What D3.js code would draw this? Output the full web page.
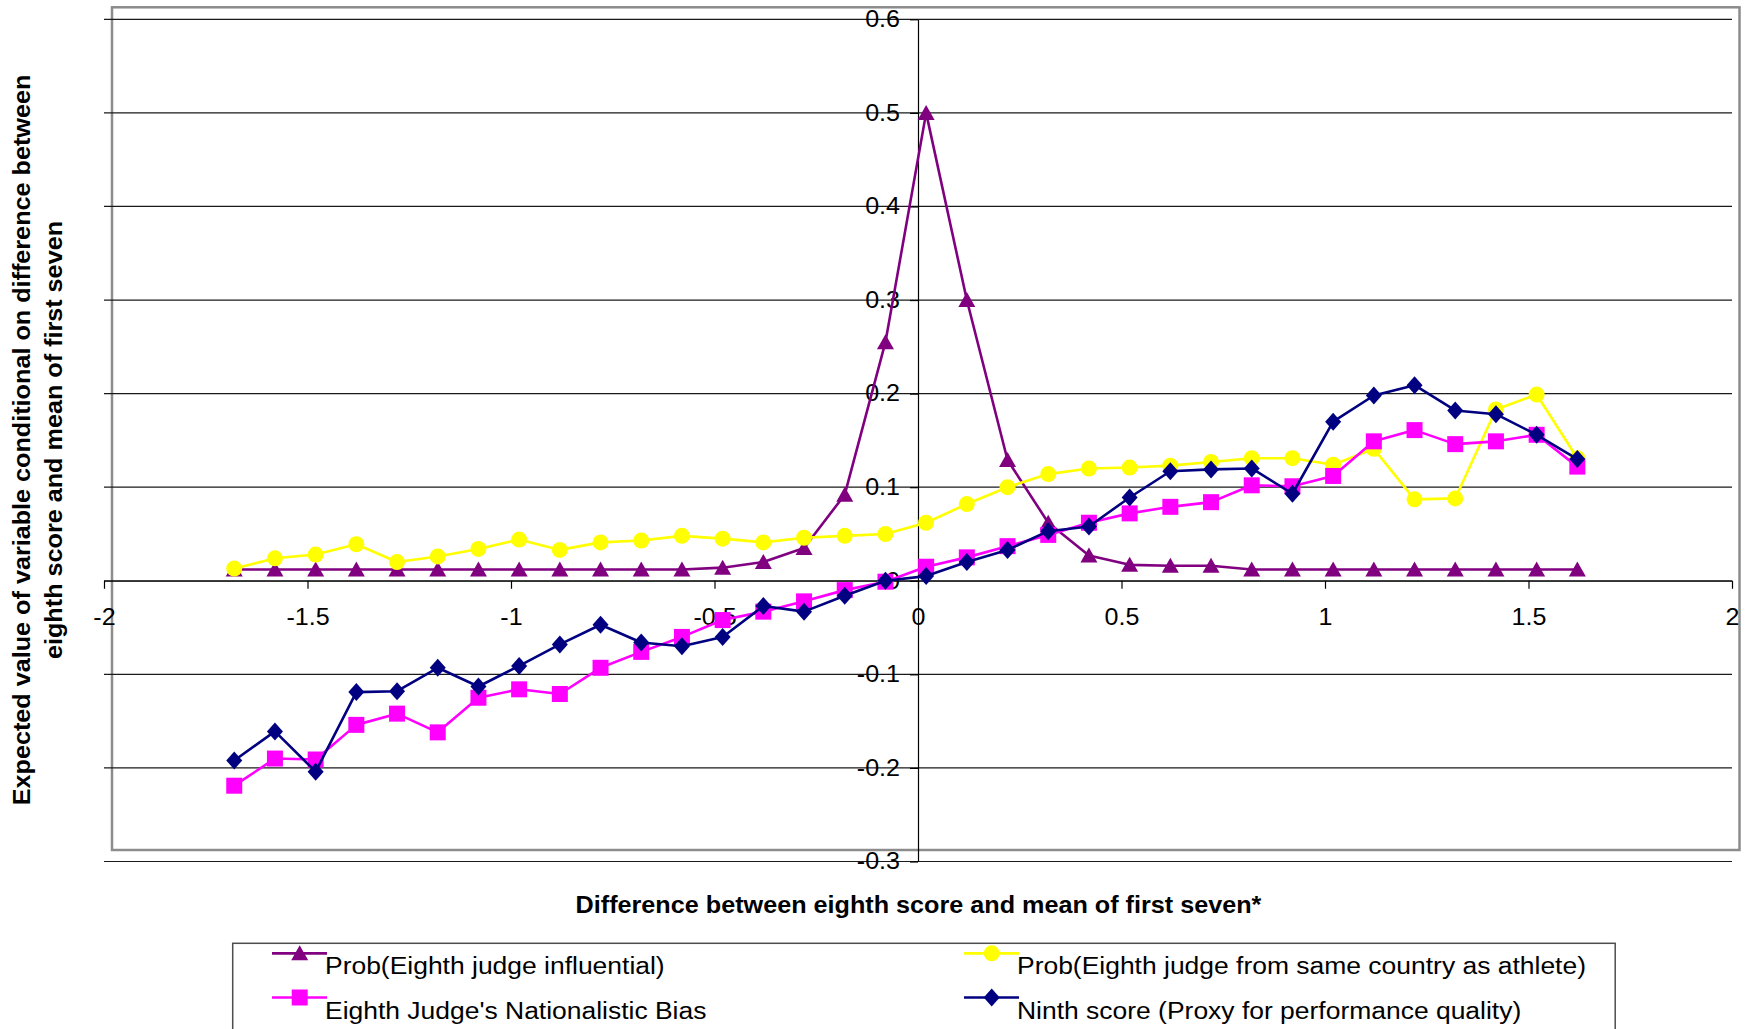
<!DOCTYPE html>
<html>
<head>
<meta charset="utf-8">
<script src="https://cdn.jsdelivr.net/npm/d3@7/dist/d3.min.js"></script>
<style>
  html, body { margin: 0; padding: 0; background: #fff; }
  svg { display: block; }
  text { font-family: "Liberation Sans", Arial, sans-serif; fill: #000; }
</style>
</head>
<body>
<svg id="chart" width="1751" height="1029"></svg>
<script>
// ---------- data ----------
const xValues = [-1.68,-1.58,-1.48,-1.38,-1.28,-1.18,-1.08,-0.98,-0.88,-0.78,-0.68,-0.58,-0.48,-0.38,-0.28,-0.18,-0.08,
                 0.02,0.12,0.22,0.32,0.42,0.52,0.62,0.72,0.82,0.92,1.02,1.12,1.22,1.32,1.42,1.52,1.62];

const probInfluential = [0.012,0.012,0.012,0.012,0.012,0.012,0.012,0.012,0.012,0.012,0.012,0.012,0.014,0.020,0.035,0.092,0.255,
                         0.500,0.300,0.129,0.062,0.027,0.017,0.016,0.016,0.012,0.012,0.012,0.012,0.012,0.012,0.012,0.012,0.012];

const probSameCountry = [0.013,0.024,0.028,0.039,0.020,0.026,0.034,0.044,0.033,0.041,0.043,0.048,0.045,0.041,0.046,0.048,0.050,
                         0.062,0.082,0.100,0.114,0.120,0.121,0.123,0.127,0.131,0.131,0.124,0.141,0.087,0.088,0.183,0.199,0.131];

const nationalisticBias = [-0.219,-0.190,-0.191,-0.154,-0.142,-0.162,-0.125,-0.116,-0.121,-0.093,-0.076,-0.060,-0.042,-0.033,-0.022,-0.010,-0.001,
                           0.015,0.025,0.037,0.049,0.062,0.072,0.079,0.084,0.102,0.101,0.112,0.149,0.161,0.146,0.149,0.156,0.122];

const ninthScore = [-0.192,-0.161,-0.204,-0.119,-0.118,-0.093,-0.113,-0.091,-0.068,-0.047,-0.066,-0.070,-0.060,-0.027,-0.033,-0.016,0.000,
                    0.005,0.020,0.033,0.053,0.058,0.089,0.117,0.119,0.120,0.093,0.170,0.198,0.209,0.182,0.178,0.156,0.130];

const xTickValues = [-2,-1.5,-1,-0.5,0,0.5,1,1.5,2];
const xTickLabels = ["-2","-1.5","-1","-0.5","0","0.5","1","1.5","2"];
const yTickValues = [-0.3,-0.2,-0.1,0,0.1,0.2,0.3,0.4,0.5,0.6];
const yTickLabels = ["-0.3","-0.2","-0.1","0","0.1","0.2","0.3","0.4","0.5","0.6"];

const seriesNames = ["Prob(Eighth judge influential)",
                     "Prob(Eighth judge from same country as athlete)",
                     "Eighth Judge's Nationalistic Bias",
                     "Ninth score (Proxy for performance quality)"];

const xTitle = "Difference between eighth score and mean of first seven*";
const yTitleLines = ["Expected value of variable conditional on difference between",
                     "eighth score and mean of first seven"];

// ---------- setup ----------
const svg = d3.select("#chart");
const x = d3.scaleLinear().domain([-2, 2]).range([104, 1732]);
const y = d3.scaleLinear().domain([-0.3, 0.6]).range([861.5, 19.3]);

function stretch(sel, k) {
  sel.each(function () {
    const L = this.getComputedTextLength();
    this.setAttribute("textLength", L * k);
    this.setAttribute("lengthAdjust", "spacingAndGlyphs");
  });
}

svg.append("rect").attr("width", 1751).attr("height", 1029).attr("fill", "#fff");

// plot area frame
svg.append("rect")
  .attr("x", 112).attr("y", 7.3).attr("width", 1739.5 - 112).attr("height", 850 - 7.3)
  .attr("fill", "none").attr("stroke", "#8c8c8c").attr("stroke-width", 2.5);

// gridlines
svg.append("g").selectAll("line").data(yTickValues).join("line")
  .attr("x1", x(-2)).attr("x2", x(2))
  .attr("y1", d => y(d)).attr("y2", d => y(d))
  .attr("stroke", "#1a1a1a").attr("stroke-width", 1.2);

// x axis at y = 0
const xAxisG = svg.append("g").attr("transform", `translate(0,${y(0)})`)
  .call(d3.axisBottom(x).tickValues(xTickValues)
    .tickFormat((d, i) => xTickLabels[i]).tickSize(8).tickSizeOuter(0).tickPadding(20));
xAxisG.select(".domain").attr("stroke", "#000").attr("stroke-width", 1.2);
xAxisG.selectAll(".tick line").attr("stroke", "#000").attr("stroke-width", 1.2);
xAxisG.selectAll("text").attr("font-size", 23).attr("font-family", "Liberation Sans, Arial, sans-serif").attr("fill", "#000");
stretch(xAxisG.selectAll("text"), 1.09);

// y axis at x = 0
const yAxisG = svg.append("g").attr("transform", `translate(${x(0)},0)`)
  .call(d3.axisLeft(y).tickValues(yTickValues)
    .tickFormat((d, i) => yTickLabels[i]).tickSize(8).tickSizeOuter(0).tickPadding(10));
yAxisG.select(".domain").attr("stroke", "#000").attr("stroke-width", 1.2);
yAxisG.selectAll(".tick line").attr("stroke", "#000").attr("stroke-width", 1.2);
yAxisG.selectAll("text").attr("font-size", 23).attr("font-family", "Liberation Sans, Arial, sans-serif").attr("fill", "#000");
stretch(yAxisG.selectAll("text"), 1.09);

// ---------- series ----------
const sym = {
  triangle: () => `M0,-8L8.5,7L-8.5,7Z`,
  circle: () => d3.symbol(d3.symbolCircle, Math.PI * 8 * 8)(),
  square: () => `M-8,-8H8V8H-8Z`,
  diamond: () => `M0,-9L8,0L0,9L-8,0Z`
};

const series = [
  { name: seriesNames[0], values: probInfluential,   color: "#800080", shape: "triangle" },
  { name: seriesNames[1], values: probSameCountry,   color: "#FFFF00", shape: "circle" },
  { name: seriesNames[2], values: nationalisticBias, color: "#FF00FF", shape: "square" },
  { name: seriesNames[3], values: ninthScore,        color: "#000080", shape: "diamond" }
];

const line = d3.line().x(d => x(d[0])).y(d => y(d[1]));

series.forEach(s => {
  const pts = xValues.map((xv, i) => [xv, s.values[i]]);
  const g = svg.append("g");
  g.append("path").attr("d", line(pts)).attr("fill", "none")
    .attr("stroke", s.color).attr("stroke-width", 2.6).attr("stroke-linejoin", "round");
  g.selectAll("path.m").data(pts).join("path").attr("class", "m")
    .attr("d", sym[s.shape]())
    .attr("transform", d => `translate(${x(d[0])},${y(d[1])})`)
    .attr("fill", s.color).attr("stroke", "none");
});

// ---------- titles ----------
const xt = svg.append("text").attr("x", 918.5).attr("y", 913)
  .attr("text-anchor", "middle").attr("font-size", 23).attr("font-weight", "bold").text(xTitle);
stretch(xt, 1.095);

const ytX = [30, 62];
yTitleLines.forEach((t, i) => {
  const el = svg.append("text").attr("transform", `translate(${ytX[i]},440) rotate(-90)`)
    .attr("text-anchor", "middle").attr("font-size", 23).attr("font-weight", "bold").text(t);
  stretch(el, 1.095);
});

// ---------- legend ----------
const lg = svg.append("g");
lg.append("rect").attr("x", 232.7).attr("y", 943.3).attr("width", 1615.2 - 232.7).attr("height", 120)
  .attr("fill", "#fff").attr("stroke", "#4d4d4d").attr("stroke-width", 1.5);

const legendCols = [272, 964];
const legendRows = [953.3, 997.5];
series.forEach((s, i) => {
  const col = i % 2, row = Math.floor(i / 2);
  const lx = legendCols[col], ly = legendRows[row];
  lg.append("line").attr("x1", lx).attr("x2", lx + 55).attr("y1", ly).attr("y2", ly)
    .attr("stroke", s.color).attr("stroke-width", 2.7);
  lg.append("path").attr("d", sym[s.shape]())
    .attr("transform", `translate(${lx + 27.7},${ly})`).attr("fill", s.color);
  const t = lg.append("text").attr("x", lx + 53).attr("y", ly + 21)
    .attr("font-size", 23).text(s.name);
  stretch(t, 1.15);
});
</script>
</body>
</html>
